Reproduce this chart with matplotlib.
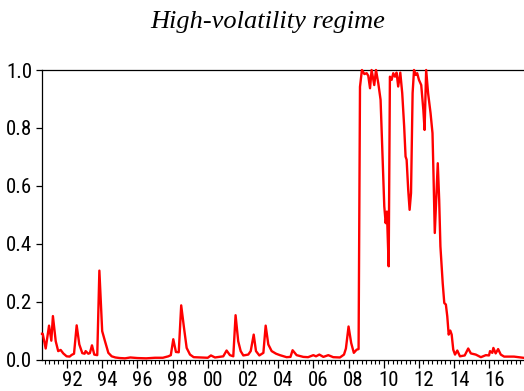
import numpy as np
import matplotlib
matplotlib.use('Agg')
import matplotlib.pyplot as plt
from matplotlib.transforms import ScaledTranslation

# dates (decimal years) and smoothed probability
dates = [1990.58, 1990.62, 1990.79, 1990.98, 1991.11, 1991.20, 1991.36, 1991.50, 1991.64, 1991.79,
         1991.98, 1992.15, 1992.27, 1992.40, 1992.55, 1992.70, 1992.87, 1993.00, 1993.06, 1993.21,
         1993.30, 1993.42, 1993.55, 1993.72, 1993.84, 1994.00, 1994.16, 1994.35, 1994.54, 1994.75,
         1995.00, 1995.30, 1995.60, 1996.00, 1996.50, 1997.00, 1997.45, 1997.76, 1997.90, 1998.04,
         1998.19, 1998.35, 1998.49, 1998.65, 1998.80, 1998.99, 1999.20, 1999.56, 2000.00, 2000.18,
         2000.41, 2000.88, 2001.07, 2001.26, 2001.45, 2001.58, 2001.73, 2001.87, 2002.02, 2002.30,
         2002.44, 2002.61, 2002.74, 2002.93, 2003.16, 2003.29, 2003.44, 2003.63, 2003.88, 2004.10,
         2004.48, 2004.70, 2004.82, 2005.05, 2005.43, 2005.70, 2006.00, 2006.15, 2006.34, 2006.57,
         2006.85, 2007.13, 2007.51, 2007.74, 2007.85, 2008.00, 2008.15, 2008.30, 2008.46, 2008.57,
         2008.65, 2008.76, 2008.90, 2009.03, 2009.12, 2009.22, 2009.31, 2009.46, 2009.56, 2009.69,
         2009.82, 2009.94, 2010.03, 2010.11, 2010.18, 2010.28, 2010.35, 2010.45, 2010.54, 2010.64,
         2010.73, 2010.82, 2010.94, 2011.05, 2011.16, 2011.24, 2011.30, 2011.39, 2011.47, 2011.55,
         2011.64, 2011.72, 2011.81, 2011.90, 2012.00, 2012.13, 2012.25, 2012.32, 2012.41, 2012.52,
         2012.66, 2012.77, 2012.83, 2012.90, 2013.00, 2013.07, 2013.15, 2013.22, 2013.35, 2013.44,
         2013.53, 2013.61, 2013.69, 2013.78, 2013.86, 2013.95, 2014.05, 2014.18, 2014.33, 2014.60,
         2014.80, 2014.95, 2015.23, 2015.52, 2015.80, 2015.98, 2016.04, 2016.17, 2016.23, 2016.36,
         2016.50, 2016.65, 2016.84, 2017.40, 2017.92]
prob = [0.089, 0.089, 0.038, 0.117, 0.065, 0.150, 0.063, 0.029, 0.033, 0.021,
        0.011, 0.010, 0.016, 0.020, 0.118, 0.052, 0.022, 0.020, 0.029, 0.020,
        0.022, 0.049, 0.017, 0.015, 0.307, 0.098, 0.063, 0.023, 0.011, 0.007,
        0.005, 0.004, 0.007, 0.005, 0.004, 0.006, 0.006, 0.011, 0.015, 0.070,
        0.026, 0.025, 0.187, 0.109, 0.040, 0.017, 0.008, 0.007, 0.006, 0.014,
        0.007, 0.011, 0.031, 0.015, 0.011, 0.153, 0.063, 0.029, 0.014, 0.017,
        0.029, 0.086, 0.029, 0.014, 0.023, 0.117, 0.052, 0.029, 0.020, 0.015,
        0.008, 0.009, 0.032, 0.015, 0.009, 0.008, 0.015, 0.011, 0.017, 0.009,
        0.015, 0.008, 0.007, 0.017, 0.038, 0.114, 0.057, 0.023, 0.034, 0.036,
        0.942, 1.000, 0.986, 0.989, 0.980, 0.937, 1.000, 0.948, 1.000, 0.954,
        0.897, 0.690, 0.529, 0.471, 0.511, 0.322, 0.977, 0.966, 0.989, 0.977,
        0.991, 0.943, 0.991, 0.920, 0.805, 0.701, 0.690, 0.586, 0.517, 0.575,
        0.920, 1.000, 0.983, 0.989, 0.966, 0.948, 0.862, 0.793, 1.000, 0.920,
        0.851, 0.782, 0.632, 0.437, 0.575, 0.678, 0.552, 0.391, 0.264, 0.195,
        0.190, 0.149, 0.086, 0.100, 0.086, 0.034, 0.017, 0.031, 0.011, 0.014,
        0.038, 0.021, 0.017, 0.008, 0.015, 0.014, 0.029, 0.023, 0.040, 0.021,
        0.036, 0.017, 0.010, 0.010, 0.006]

yticks = [0.0, 0.2, 0.4, 0.6, 0.8, 1.0]
label_years = list(range(1992, 2017, 2))

fig = plt.figure(figsize=(5.24, 3.91), dpi=100)
ax = fig.add_axes([42/524, 31.5/391, 482/524, 289.5/391])

ax.plot(dates, prob, color='#ff0000', lw=1.7, clip_on=False, zorder=3)

ax.set_xlim(1990.58, 2017.97)
ax.set_ylim(0, 1)
ax.spines['right'].set_visible(False)
for s in ['left', 'bottom', 'top']:
    ax.spines[s].set_linewidth(0.9)
    ax.spines[s].set_color('black')

tick_font = {'family': ['Liberation Sans Narrow', 'Roboto Condensed', 'Noto Sans Condensed',
                        'Open Sans Condensed', 'Liberation Sans'], 'size': 15}

ax.set_yticks(yticks)
ax.set_yticklabels(['%.1f' % v for v in yticks], fontdict=tick_font)
ax.tick_params(axis='y', direction='out', length=4, width=0.9, pad=3)

ax.set_xticks(label_years)
ax.set_xticklabels(['%02d' % (y % 100) for y in label_years], fontdict=tick_font)
ax.set_xticks([q / 4 for q in range(1990 * 4 + 3, 2018 * 4)], minor=True)
ax.tick_params(axis='x', which='major', direction='out', length=6, width=0.9, pad=2)
ax.tick_params(axis='x', which='minor', direction='out', length=3, width=0.8)

offset = ScaledTranslation(5/100, 0, fig.dpi_scale_trans)
for lbl in ax.get_xticklabels():
    lbl.set_transform(lbl.get_transform() + offset)

fig.text(0.51, 0.944, 'High-volatility regime', ha='center', va='center',
         family='Liberation Serif', style='italic', fontsize=19)

fig.savefig('out.png', dpi=100)
